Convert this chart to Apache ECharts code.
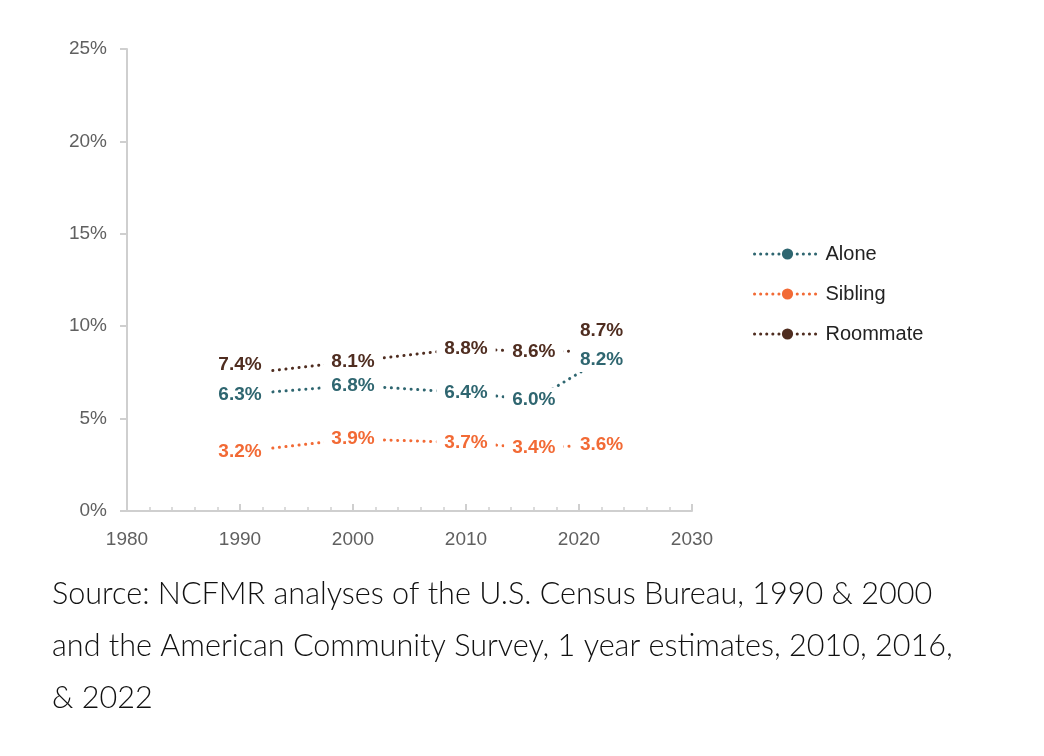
<!DOCTYPE html>
<html>
<head>
<meta charset="utf-8">
<script src="https://cdn.jsdelivr.net/npm/echarts@6/dist/echarts.min.js"></script>
<style>
html, body { margin: 0; padding: 0; background: #fff; }
#main { width: 1044px; height: 756px; }
</style>
</head>
<body>
<div id="main"></div>
<script>
// 数据
var years = [1990, 2000, 2010, 2016, 2022];
var alone = [6.3, 6.8, 6.4, 6.0, 8.2];
var sibling = [3.2, 3.9, 3.7, 3.4, 3.6];
var roommate = [7.4, 8.1, 8.8, 8.6, 8.7];
// 标签偏移 (避免重叠)
var roommateOffsetY = [-9, 0, 0, 0, -19];

var colors = {
	alone: "#2f6670",
	sibling: "#f26a35",
	roommate: "#4f2d20"
};

function makeSeries(name, vals, color, offs) {
	var data = [];
	for (var i = 0; i < years.length; i++) {
		var item = { value: [years[i], vals[i]], symbolSize: 0 };
		if (offs && offs[i]) {
			item.label = { offset: [0, offs[i]] };
		}
		data.push(item);
	}
	return {
		name: name,
		type: 'line',
		data: data,
		symbol: 'circle',
		symbolSize: 10,
		itemStyle: { color: color },
		lineStyle: {
			color: color,
			width: 3,
			type: [0.1, 6.5],
			cap: 'round'
		},
		label: {
			show: true,
			position: 'inside',
			formatter: function(p) { return p.value[1].toFixed(1) + '%'; },
			color: color,
			fontFamily: 'Liberation Sans',
			fontWeight: 'bold',
			fontSize: 19,
			backgroundColor: '#fff',
			padding: [3, 8]
		},
		animation: false
	};
}

var chart = echarts.init(document.getElementById('main'));
chart.setOption({
	backgroundColor: '#fff',
	grid: {
		left: 127,
		right: 352,
		top: 49,
		bottom: 245,
		containLabel: false
	},
	legend: {
		orient: 'vertical',
		left: 753,
		top: 244,
		padding: 0,
		itemWidth: 66,
		itemHeight: 14,
		itemGap: 20,
		lineStyle: { width: 3, cap: 'round', type: [0.1, 6] },
		textStyle: {
			fontFamily: 'Liberation Sans',
			fontSize: 20,
			color: '#222'
		},
		data: ['Alone', 'Sibling', 'Roommate']
	},
	xAxis: {
		type: 'value',
		min: 1980,
		max: 2030,
		interval: 10,
		axisLine: { lineStyle: { color: '#cfcfcf', width: 2 } },
		axisTick: { inside: true, length: 7, lineStyle: { color: '#cfcfcf', width: 2 } },
		minorTick: { show: true, splitNumber: 5, length: 4, lineStyle: { color: '#cfcfcf', width: 1.5 } },
		splitLine: { show: false },
		axisLabel: {
			margin: 19,
			color: '#606060',
			fontFamily: 'Liberation Sans',
			fontSize: 19,
			formatter: function(v) { return String(v); }
		}
	},
	yAxis: {
		type: 'value',
		min: 0,
		max: 25,
		interval: 5,
		axisLine: { show: true, lineStyle: { color: '#cfcfcf', width: 2 } },
		axisTick: { show: true, length: 7, lineStyle: { color: '#cfcfcf', width: 2 } },
		splitLine: { show: false },
		axisLabel: {
			margin: 20,
			color: '#606060',
			fontFamily: 'Liberation Sans',
			fontSize: 19,
			formatter: '{value}%'
		}
	},
	series: [
		makeSeries('Alone', alone, colors.alone),
		makeSeries('Sibling', sibling, colors.sibling),
		makeSeries('Roommate', roommate, colors.roommate, roommateOffsetY)
	],
	graphic: [{
		type: 'text',
		left: 52,
		top: 568,
		style: {
			text: 'Source: NCFMR analyses of the U.S. Census Bureau, 1990 & 2000\nand the American Community Survey, 1 year estimates, 2010, 2016,\n& 2022',
			fontFamily: 'Lato',
			fontWeight: 300,
			fontSize: 30.6,
			lineHeight: 52,
			fill: '#111'
		}
	}]
});
</script>
</body>
</html>
